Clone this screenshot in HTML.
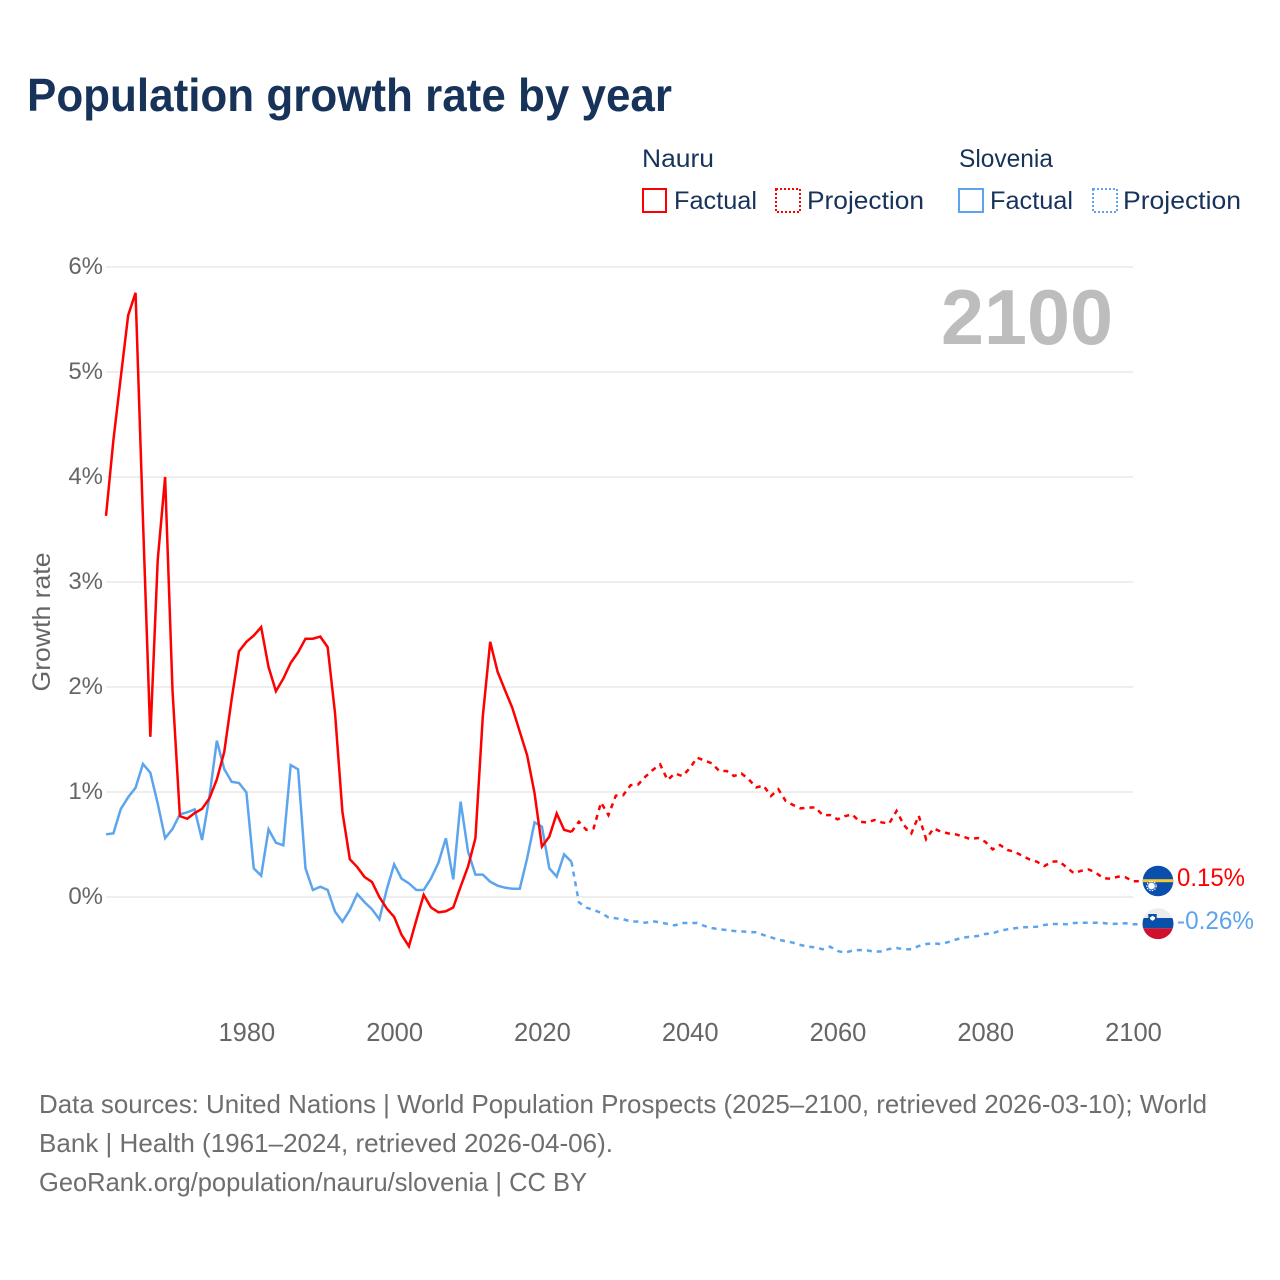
<!DOCTYPE html>
<html lang="en">
<head>
<meta charset="utf-8">
<title>Population growth rate by year</title>
<style>
html,body{margin:0;padding:0;background:#fff;}
svg{display:block;}
text{font-family:"Liberation Sans",sans-serif;}
</style>
</head>
<body>
<svg id="chart" xmlns="http://www.w3.org/2000/svg" width="1280" height="1280" viewBox="0 0 1280 1280">
  <rect width="1280" height="1280" fill="#ffffff"/>
  <text x="27" y="111" font-size="46" font-weight="700" fill="#17335a" textLength="645" lengthAdjust="spacingAndGlyphs">Population growth rate by year</text>

  <g font-size="25" fill="#17335a">
    <text x="642" y="167" textLength="72" lengthAdjust="spacingAndGlyphs">Nauru</text>
    <text x="959" y="167" textLength="94" lengthAdjust="spacingAndGlyphs">Slovenia</text>
    <rect x="643" y="189" width="23" height="23" fill="none" stroke="#ff0000" stroke-width="2"/>
    <text x="674" y="209" textLength="83" lengthAdjust="spacingAndGlyphs">Factual</text>
    <rect x="776" y="189" width="24" height="23" fill="none" stroke="#ff0000" stroke-width="2" stroke-dasharray="2 2"/>
    <text x="807" y="209" textLength="117" lengthAdjust="spacingAndGlyphs">Projection</text>
    <rect x="959" y="189" width="24" height="23" fill="none" stroke="#5ca5ee" stroke-width="2"/>
    <text x="990" y="209" textLength="83" lengthAdjust="spacingAndGlyphs">Factual</text>
    <rect x="1093" y="189" width="24" height="23" fill="none" stroke="#5ca5ee" stroke-width="2" stroke-dasharray="2 2"/>
    <text x="1123" y="209" textLength="118" lengthAdjust="spacingAndGlyphs">Projection</text>
  </g>

  <g id="grid"></g>
  <g id="yticks"></g>
  <g id="xticks"></g>
  <text transform="translate(50,622) rotate(-90)" text-anchor="middle" font-size="25" fill="#666666" textLength="139" lengthAdjust="spacingAndGlyphs">Growth rate</text>
  <text x="941" y="344" font-size="78" font-weight="700" fill="#bdbdbd" textLength="172" lengthAdjust="spacingAndGlyphs">2100</text>

  <g id="series"></g>

  <g id="flag-nauru">
    <circle cx="1158" cy="881" r="15.3" fill="#0b4fad"/>
    <rect x="1143" y="879.2" width="30" height="3" fill="#f6c92f"/>
    <circle cx="1151.500" cy="886" r="3.4" fill="#ffffff"/>
    <circle cx="1151.500" cy="886" r="4.6" fill="none" stroke="#ffffff" stroke-width="1.2" stroke-dasharray="1.5 1.2"/>
  </g>
  <g id="flag-slovenia">
    <clipPath id="slo-clip"><circle cx="1158" cy="923.7" r="15.5"/></clipPath>
    <g clip-path="url(#slo-clip)">
      <rect x="1142" y="908" width="32" height="10.5" fill="#ececec"/>
      <rect x="1142" y="918" width="32" height="10.3" fill="#0a4fa8"/>
      <rect x="1142" y="928.300" width="32" height="11" fill="#d0102f"/>
    </g>
    <path d="M1148.300 914 h8.400 v4.500 q0 3 -4.200 4.500 q-4.200 -1.500 -4.200 -4.500 z" fill="#0a4fa8"/>
    <path d="M1149.800 917.500 l2.700 -1.800 l2.700 1.800 q0 2.200 -2.700 3.300 q-2.700 -1.100 -2.700 -3.300 z" fill="#ffffff"/>
  </g>

  <text id="label-nauru" x="1177" y="886" font-size="25" fill="#ff0000" textLength="68" lengthAdjust="spacingAndGlyphs">0.15%</text>
  <text id="label-slovenia" x="1177" y="929" font-size="25" fill="#5ca5ee" textLength="77" lengthAdjust="spacingAndGlyphs">-0.26%</text>

  <g font-size="26" fill="#6e6e6e">
    <text x="39" y="1113" textLength="1168" lengthAdjust="spacingAndGlyphs">Data sources: United Nations | World Population Prospects (2025–2100, retrieved 2026-03-10); World</text>
    <text x="39" y="1152" textLength="574" lengthAdjust="spacingAndGlyphs">Bank | Health (1961–2024, retrieved 2026-04-06).</text>
    <text x="39" y="1191" textLength="548" lengthAdjust="spacingAndGlyphs">GeoRank.org/population/nauru/slovenia | CC BY</text>
  </g>
</svg>
<script>
var factualStartYear = 1961;
var yTickValues = [0, 1, 2, 3, 4, 5, 6];
var xTickYears = [1980, 2000, 2020, 2040, 2060, 2080, 2100];

var nauruFactual = [3.63,4.35,4.95,5.54,5.755,3.6,1.525,3.21,4.0,1.97,0.77,0.745,0.8,0.84,0.94,1.12,1.38,1.88,2.34,2.43,2.49,2.57,2.19,1.96,2.08,2.23,2.33,2.46,2.46,2.48,2.38,1.75,0.81,0.36,0.285,0.19,0.143,0.0,-0.11,-0.19,-0.36,-0.47,-0.22,0.02,-0.1,-0.146,-0.136,-0.1,0.1,0.29,0.56,1.72,2.43,2.145,1.97,1.8,1.575,1.35,0.99,0.48,0.575,0.795,0.64,0.62];

var nauruProjection = [0.717,0.64,0.654,0.9,0.78,0.965,0.97,1.065,1.07,1.146,1.21,1.263,1.114,1.177,1.152,1.225,1.327,1.3,1.273,1.2,1.2,1.152,1.177,1.12,1.044,1.06,0.962,1.026,0.914,0.876,0.844,0.85,0.854,0.78,0.78,0.74,0.77,0.787,0.717,0.71,0.733,0.71,0.7,0.82,0.685,0.606,0.774,0.55,0.654,0.622,0.606,0.597,0.575,0.552,0.562,0.526,0.453,0.495,0.448,0.43,0.393,0.358,0.336,0.295,0.336,0.34,0.283,0.226,0.25,0.263,0.23,0.178,0.175,0.194,0.187,0.15];

var sloveniaFactual = [0.597,0.606,0.838,0.95,1.04,1.267,1.184,0.89,0.56,0.648,0.787,0.806,0.835,0.543,0.955,1.489,1.219,1.098,1.086,0.997,0.273,0.203,0.645,0.517,0.492,1.257,1.216,0.273,0.067,0.098,0.067,-0.14,-0.235,-0.124,0.029,-0.05,-0.117,-0.212,0.073,0.311,0.175,0.13,0.067,0.067,0.178,0.327,0.559,0.168,0.908,0.432,0.213,0.213,0.146,0.108,0.089,0.079,0.079,0.368,0.711,0.67,0.273,0.194,0.406,0.336];

var sloveniaProjection = [-0.05,-0.1,-0.124,-0.15,-0.194,-0.203,-0.212,-0.232,-0.235,-0.245,-0.232,-0.241,-0.257,-0.27,-0.248,-0.248,-0.248,-0.276,-0.295,-0.308,-0.314,-0.324,-0.327,-0.333,-0.336,-0.362,-0.384,-0.406,-0.422,-0.435,-0.457,-0.473,-0.479,-0.498,-0.473,-0.514,-0.53,-0.511,-0.505,-0.508,-0.521,-0.518,-0.495,-0.486,-0.498,-0.498,-0.467,-0.448,-0.441,-0.448,-0.429,-0.406,-0.387,-0.378,-0.371,-0.352,-0.346,-0.321,-0.308,-0.298,-0.289,-0.286,-0.283,-0.267,-0.257,-0.257,-0.26,-0.248,-0.245,-0.245,-0.245,-0.248,-0.257,-0.254,-0.25,-0.26];

var SVG_NS = 'http://www.w3.org/2000/svg';
function xScale(year) { return 106 + (year - 1961) * (1133 - 106) / (2100 - 1961); }
function yScale(value) { return 897 - value * 105; }

function buildPath(startYear, values) {
  var d = '';
  for (var i = 0; i < values.length; i++) {
    d += (i === 0 ? 'M' : 'L') + xScale(startYear + i).toFixed(2) + ' ' + yScale(values[i]).toFixed(2);
  }
  return d;
}

var gridGroup = document.getElementById('grid');
var yTickGroup = document.getElementById('yticks');
var xTickGroup = document.getElementById('xticks');
var seriesGroup = document.getElementById('series');

yTickValues.forEach(function (v) {
  var line = document.createElementNS(SVG_NS, 'line');
  
  
  line.setAttribute('x1', xScale(1961));
  line.setAttribute('x2', xScale(2100));
  line.setAttribute('y1', yScale(v));
  line.setAttribute('y2', yScale(v));
  line.setAttribute('stroke', '#eeeeee');
  line.setAttribute('stroke-width', '2');
  gridGroup.appendChild(line);

  var label = document.createElementNS(SVG_NS, 'text');
  
  
  label.setAttribute('x', 103);
  label.setAttribute('y', yScale(v) + 7);
  label.setAttribute('text-anchor', 'end');
  label.setAttribute('font-size', '24');
  label.setAttribute('fill', '#666666');
  label.textContent = v + '%';
  yTickGroup.appendChild(label);
});

xTickYears.forEach(function (yr) {
  var label = document.createElementNS(SVG_NS, 'text');
  
  
  label.setAttribute('x', xScale(yr) + 0.5);
  label.setAttribute('y', 1041);
  label.setAttribute('text-anchor', 'middle');
  label.setAttribute('font-size', '25.5');
  label.setAttribute('fill', '#666666');
  label.textContent = String(yr);
  xTickGroup.appendChild(label);
});

function drawSeries(name, color, factual, projection) {
  var lastFactual = factual[factual.length - 1];
  var lastYear = factualStartYear + factual.length - 1;

  var solid = document.createElementNS(SVG_NS, 'path');
  
  
  solid.setAttribute('d', buildPath(factualStartYear, factual));
  solid.setAttribute('fill', 'none');
  solid.setAttribute('stroke', color);
  solid.setAttribute('stroke-width', '2.5');
  solid.setAttribute('stroke-linejoin', 'miter');
  seriesGroup.appendChild(solid);

  var dashed = document.createElementNS(SVG_NS, 'path');
  
  
  var lastValue = projection[projection.length - 1];
  dashed.setAttribute('d', buildPath(lastYear, [lastFactual].concat(projection)) + 'L1146 ' + yScale(lastValue).toFixed(2));
  dashed.setAttribute('fill', 'none');
  dashed.setAttribute('stroke', color);
  dashed.setAttribute('stroke-width', '2.5');
  dashed.setAttribute('stroke-dasharray', '5 5');
  seriesGroup.appendChild(dashed);
}

drawSeries('slovenia', '#5ca5ee', sloveniaFactual, sloveniaProjection);
drawSeries('nauru', '#ff0000', nauruFactual, nauruProjection);
</script>
</body>
</html>
